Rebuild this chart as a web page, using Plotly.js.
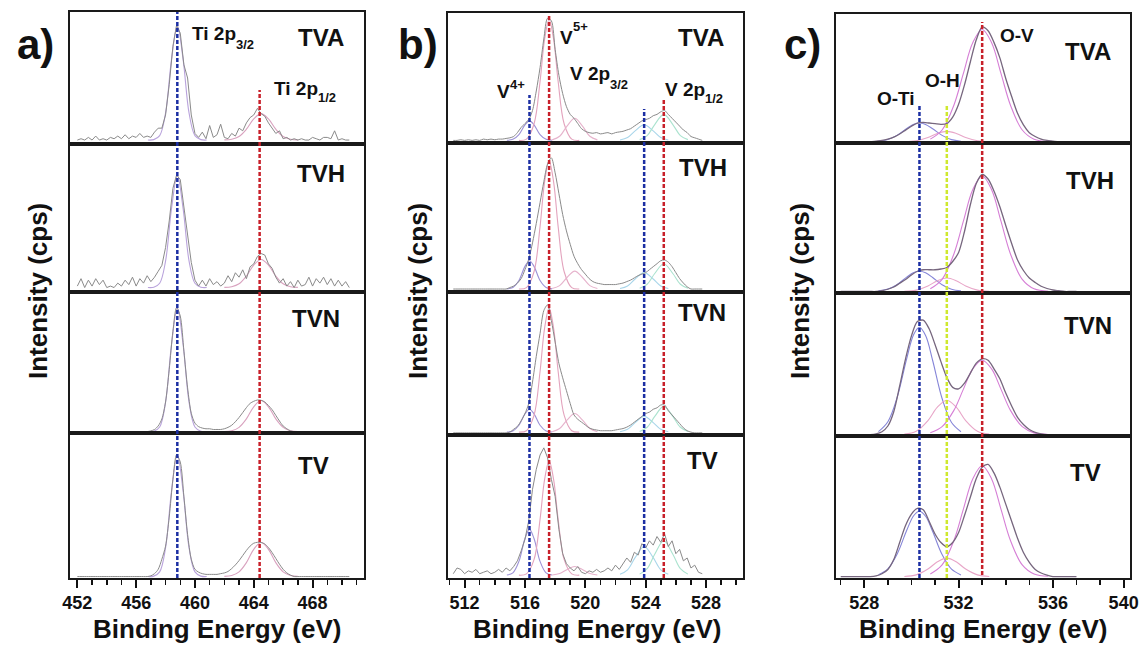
<!DOCTYPE html>
<html><head><meta charset="utf-8">
<script src="https://cdn.plot.ly/plotly-3.0.1.min.js"></script>
<style>html,body{margin:0;padding:0;background:#fff}#chart{width:1143px;height:650px}</style>
</head><body><div id="chart"></div>
<script>
// ================= DATA =================
const sampleNames = ["TVA", "TVH", "TVN", "TV"];

// ---- Panel a : Ti 2p (energy grid 452.00 eV + 0.25 eV steps) ----
const aStart = 452.0, aStep = 0.25;
const aRawTVA = [0.03,0.04,0.03,0.05,0.03,0.06,0.03,0.04,0.03,0.05,0.04,0.06,0.04,0.07,0.04,0.06,0.05,0.08,0.05,0.06,
  0.05,0.09,0.12,0.12,0.22,0.45,0.74,0.90,0.84,0.60,0.50,0.22,0.08,0.05,0.09,0.04,0.14,0.05,0.07,0.15,
  0.05,0.04,0.08,0.06,0.12,0.10,0.16,0.20,0.22,0.27,0.23,0.21,0.16,0.12,0.08,0.10,0.04,0.05,0.03,0.04,
  0.03,0.04,0.03,0.03,0.05,0.04,0.03,0.05,0.05,0.04,0.10,0.03,0.04,0.03,0.03];
const aRawTVH = [0.04,0.09,0.03,0.08,0.04,0.09,0.05,0.08,0.03,0.04,0.03,0.06,0.04,0.08,0.05,0.10,0.04,0.09,0.06,0.11,
  0.07,0.10,0.14,0.18,0.30,0.48,0.70,0.79,0.76,0.58,0.38,0.20,0.08,0.04,0.08,0.04,0.09,0.05,0.07,0.04,
  0.06,0.11,0.07,0.13,0.10,0.15,0.09,0.17,0.19,0.24,0.26,0.25,0.19,0.16,0.10,0.06,0.09,0.04,0.07,0.03,
  0.08,0.04,0.05,0.10,0.04,0.09,0.06,0.10,0.05,0.09,0.04,0.08,0.04,0.07,0.03];
const aRawTVN = [0.01,0.01,0.01,0.01,0.01,0.01,0.01,0.01,0.01,0.01,0.01,0.01,0.01,0.01,0.01,0.01,0.01,0.01,0.01,0.01,
  0.015,0.025,0.05,0.10,0.22,0.45,0.72,0.89,0.83,0.58,0.32,0.14,0.07,0.045,0.035,0.03,0.03,0.025,0.025,0.025,
  0.03,0.04,0.055,0.08,0.11,0.145,0.18,0.21,0.225,0.234,0.232,0.22,0.195,0.165,0.125,0.085,0.05,0.03,0.015,
  0.01,0.01,0.01,0.01,0.01,0.01,0.01,0.01,0.01,0.01,0.01,0.01,0.01,0.01,0.01,0.01];
const aRawTV = [0.01,0.01,0.01,0.01,0.01,0.01,0.01,0.01,0.01,0.01,0.01,0.01,0.01,0.01,0.01,0.01,0.01,0.01,0.01,0.01,
  0.015,0.03,0.06,0.13,0.22,0.42,0.68,0.85,0.80,0.56,0.30,0.13,0.06,0.04,0.03,0.025,0.025,0.025,0.025,0.03,
  0.035,0.045,0.065,0.09,0.12,0.155,0.19,0.22,0.24,0.246,0.245,0.235,0.21,0.175,0.135,0.095,0.06,0.035,0.02,
  0.01,0.01,0.01,0.01,0.01,0.01,0.01,0.01,0.01,0.01,0.01,0.01,0.01,0.01,0.01,0.01];
// fitted components (Ti 2p3/2, Ti 2p1/2)
const aFit1X = [456.8,457.2,457.6,458.0,458.4,458.8,459.2,459.6,460.0,460.4,460.8];
const aFit1TVA = [0.03,0.033,0.063,0.234,0.636,0.90,0.636,0.234,0.063,0.033,0.03];
const aFit1TVH = [0.03,0.032,0.059,0.209,0.559,0.79,0.559,0.209,0.059,0.032,0.03];
const aFit1TVN = [0.01,0.013,0.043,0.217,0.622,0.89,0.622,0.217,0.043,0.013,0.01];
const aFit1TV  = [0.01,0.013,0.042,0.207,0.595,0.85,0.595,0.207,0.042,0.013,0.01];
const aFit2X = [462.0,462.5,463.0,463.5,464.0,464.5,465.0,465.5,466.0,466.5,467.0];
const aFit2TVA = [0.031,0.036,0.057,0.112,0.19,0.23,0.19,0.112,0.057,0.036,0.031];
const aFit2TVH = [0.031,0.036,0.056,0.108,0.182,0.22,0.182,0.108,0.056,0.036,0.031];
const aFit2TVN = [0.011,0.016,0.04,0.10,0.186,0.23,0.186,0.10,0.04,0.016,0.011];
const aFit2TV  = [0.011,0.017,0.042,0.106,0.198,0.245,0.198,0.106,0.042,0.017,0.011];
const aPeakLines = [458.8, 464.4];
const aTickVals = [452, 456, 460, 464, 468];
const aTickText = ["452", "456", "460", "464", "468"];

// ---- Panel b : V 2p (energy grid 511.25 eV + 0.25 eV steps) ----
const bStart = 511.25, bStep = 0.25;
const bRawTVA = [0.02,0.02,0.025,0.02,0.025,0.02,0.025,0.02,0.03,0.025,0.03,0.025,0.03,0.03,0.035,
  0.04,0.05,0.08,0.12,0.15,0.18,0.25,0.40,0.58,0.80,0.96,0.94,0.72,0.52,0.38,0.28,0.22,0.19,0.15,0.11,
  0.09,0.08,0.075,0.08,0.07,0.075,0.08,0.07,0.08,0.085,0.09,0.10,0.11,0.13,0.15,0.17,0.18,0.19,0.21,0.22,
  0.24,0.25,0.22,0.19,0.16,0.13,0.10,0.08,0.05,0.04,0.03,0.02];
const bRawTVH = [0.02,0.02,0.02,0.02,0.02,0.02,0.02,0.02,0.02,0.02,0.02,0.02,0.02,0.02,0.02,
  0.03,0.04,0.06,0.09,0.15,0.22,0.33,0.46,0.60,0.74,0.86,0.90,0.80,0.66,0.52,0.41,0.32,0.24,0.19,0.15,
  0.12,0.09,0.07,0.06,0.055,0.05,0.05,0.05,0.05,0.055,0.06,0.07,0.08,0.095,0.11,0.12,0.13,0.15,0.17,0.19,
  0.21,0.215,0.20,0.17,0.13,0.09,0.06,0.035,0.02,0.02,0.02,0.02];
const bRawTVN = [0.015,0.015,0.015,0.015,0.015,0.015,0.015,0.015,0.015,0.015,0.015,0.015,0.015,0.015,0.015,
  0.02,0.04,0.06,0.10,0.15,0.22,0.37,0.55,0.71,0.87,0.91,0.80,0.65,0.50,0.40,0.31,0.22,0.14,0.11,0.09,
  0.07,0.05,0.04,0.035,0.03,0.03,0.03,0.03,0.035,0.04,0.045,0.055,0.07,0.09,0.11,0.13,0.15,0.16,0.18,0.19,
  0.21,0.21,0.17,0.14,0.11,0.08,0.05,0.03,0.02,0.015,0.015,0.015];
const bRawTV = [0.03,0.07,0.06,0.03,0.05,0.04,0.06,0.03,0.04,0.05,0.03,0.04,0.06,0.04,0.07,
  0.05,0.08,0.12,0.19,0.27,0.40,0.62,0.76,0.86,0.91,0.84,0.69,0.57,0.34,0.17,0.10,0.07,0.05,0.08,0.04,
  0.03,0.05,0.04,0.06,0.04,0.05,0.07,0.05,0.09,0.06,0.10,0.14,0.11,0.18,0.16,0.24,0.21,0.26,0.23,0.29,
  0.25,0.31,0.22,0.26,0.17,0.20,0.12,0.14,0.07,0.09,0.04,0.03];
// fitted components
const bV4X  = [514.8,515.2,515.6,516.0,516.3,516.6,517.0,517.4,517.8];
const bV4TVA = [0.021,0.028,0.065,0.14,0.17,0.14,0.065,0.028,0.021];
const bV4TVH = [0.021,0.03,0.077,0.172,0.21,0.172,0.077,0.03,0.021];
const bV4TVN = [0.021,0.028,0.068,0.148,0.18,0.148,0.068,0.028,0.021];
const bV4TV  = [0.021,0.036,0.116,0.276,0.34,0.276,0.116,0.036,0.021];
const bV5X  = [515.6,516.1,516.6,517.0,517.3,517.6,517.9,518.2,518.6,519.1,519.6];
const bV5TVA = [0.02,0.03,0.146,0.473,0.797,0.95,0.797,0.473,0.146,0.03,0.02];
const bV5TVH = [0.02,0.029,0.136,0.439,0.738,0.88,0.738,0.439,0.136,0.029,0.02];
const bV5TVN = [0.02,0.03,0.137,0.444,0.746,0.89,0.746,0.444,0.137,0.03,0.02];
const bV5TV  = [0.02,0.029,0.128,0.41,0.688,0.82,0.688,0.41,0.128,0.029,0.02];
const bSatX = [517.8,518.3,518.8,519.3,519.8,520.3,520.8];
const bSatTVA = [0.024,0.052,0.132,0.19,0.132,0.052,0.024];
const bSatTVH = [0.023,0.043,0.099,0.14,0.099,0.043,0.023];
const bSatTVN = [0.023,0.045,0.106,0.15,0.106,0.045,0.023];
const bSatTV  = [0.021,0.031,0.06,0.08,0.06,0.031,0.021];
const bV4bX = [522.3,522.8,523.3,523.9,524.5,525.0,525.5];
const bV4bTVA = [0.023,0.042,0.093,0.14,0.093,0.042,0.023];
const bV4bTVH = [0.023,0.04,0.087,0.13,0.087,0.04,0.023];
const bV4bTVN = [0.023,0.04,0.087,0.13,0.087,0.04,0.023];
const bV4bTV  = [0.026,0.057,0.142,0.22,0.142,0.057,0.026];
const bV5bX = [523.6,524.1,524.6,525.2,525.8,526.3,526.8];
const bV5bTVA = [0.026,0.057,0.142,0.22,0.142,0.057,0.026];
const bV5bTVH = [0.025,0.052,0.124,0.19,0.124,0.052,0.025];
const bV5bTVN = [0.025,0.054,0.13,0.20,0.13,0.054,0.025];
const bV5bTV  = [0.027,0.065,0.166,0.26,0.166,0.065,0.027];
const bPeakLines = [516.3, 517.6, 523.9, 525.2];
const bTickVals = [512, 516, 520, 524, 528];
const bTickText = ["512", "516", "520", "524", "528"];

// ---- Panel c : O 1s (energy grid 527.00 eV + 0.25 eV steps) ----
const cStart = 527.0, cStep = 0.25;
const cRawTVA = [0.01,0.01,0.01,0.01,0.01,0.01,0.015,0.02,0.03,0.045,0.07,0.10,0.13,0.155,0.16,0.155,0.15,0.145,0.15,0.20,
  0.30,0.45,0.63,0.80,0.90,0.87,0.78,0.66,0.50,0.36,0.23,0.14,0.08,0.05,0.03,0.02,0.015,0.01,0.01,0.01,0.01];
const cRawTVH = [0.01,0.01,0.01,0.01,0.01,0.01,0.01,0.015,0.025,0.04,0.065,0.09,0.12,0.145,0.155,0.155,0.155,0.16,0.17,0.21,
  0.27,0.41,0.59,0.73,0.79,0.76,0.68,0.575,0.45,0.33,0.22,0.15,0.10,0.07,0.045,0.03,0.02,0.015,0.01,0.01,0.01];
const cRawTVN = [0.01,0.01,0.01,0.01,0.01,0.01,0.015,0.03,0.07,0.17,0.35,0.54,0.70,0.80,0.81,0.75,0.64,0.52,0.41,0.34,
  0.33,0.37,0.44,0.51,0.54,0.53,0.47,0.40,0.30,0.21,0.13,0.08,0.045,0.025,0.015,0.01,0.01,0.01,0.01,0.01,0.01];
const cRawTV = [0.01,0.01,0.01,0.01,0.01,0.01,0.015,0.03,0.06,0.13,0.25,0.37,0.45,0.49,0.48,0.40,0.31,0.25,0.22,0.25,
  0.32,0.44,0.57,0.70,0.78,0.80,0.74,0.64,0.52,0.40,0.28,0.18,0.11,0.06,0.035,0.02,0.01,0.01,0.01,0.01,0.01];
const cTiX = [528.6,529.0,529.4,529.8,530.1,530.34,530.6,530.9,531.3,531.7,532.1];
const cTiTVA = [0.014,0.027,0.061,0.113,0.145,0.155,0.144,0.11,0.059,0.026,0.014];
const cTiTVH = [0.014,0.026,0.057,0.106,0.136,0.145,0.135,0.103,0.055,0.025,0.014];
const cTiTVN = [0.031,0.10,0.273,0.541,0.711,0.76,0.702,0.528,0.262,0.094,0.03];
const cTiTV  = [0.023,0.065,0.171,0.336,0.44,0.47,0.435,0.327,0.165,0.062,0.022];
const cOHX = [529.7,530.2,530.7,531.1,531.5,531.9,532.3,532.8,533.3];
const cOHTVA = [0.011,0.018,0.043,0.074,0.09,0.074,0.043,0.018,0.011];
const cOHTVH = [0.011,0.019,0.047,0.082,0.10,0.082,0.047,0.019,0.011];
const cOHTVN = [0.013,0.033,0.108,0.202,0.25,0.202,0.108,0.033,0.013];
const cOHTV  = [0.011,0.022,0.063,0.114,0.14,0.114,0.063,0.022,0.011];
const cOVX = [530.8,531.3,531.8,532.2,532.6,533.0,533.4,533.8,534.2,534.7,535.2,535.8];
const cOVTVA = [0.03,0.101,0.293,0.538,0.777,0.88,0.777,0.538,0.293,0.101,0.03,0.012];
const cOVTVH = [0.028,0.091,0.26,0.477,0.689,0.78,0.689,0.477,0.26,0.091,0.028,0.012];
const cOVTVN = [0.022,0.065,0.179,0.326,0.469,0.53,0.469,0.326,0.179,0.065,0.022,0.011];
const cOVTV  = [0.028,0.092,0.264,0.483,0.698,0.79,0.698,0.483,0.264,0.092,0.028,0.012];
const cPeakLines = [530.34, 531.5, 533.0];
const cTickVals = [528, 532, 536, 539];
const cTickText = ["528", "532", "536", "540"];

// ================= STYLE / LAYOUT =================
const W = 1143, H = 650;
const FONT = "Liberation Sans, Arial, Helvetica, sans-serif";
const px2x = p => p / W;
const px2y = p => 1 - p / H;
const gridX = (s, st, n) => Array.from({length: n}, (_, i) => +(s + i * st).toFixed(3));

const panels = [
  { range: [451.5, 471.5], px: [70, 364], rows: [12, 144, 292, 433, 578], tickvals: aTickVals, ticktext: aTickText, minor0: 452,
    start: aStart, step: aStep, raw: [aRawTVA, aRawTVH, aRawTVN, aRawTV], rawShape: ['linear', 'linear', 'spline', 'spline'],
    comps: [
      { x: aFit1X, ys: [aFit1TVA, aFit1TVH, aFit1TVN, aFit1TV], color: '#b9a3dc' },
      { x: aFit2X, ys: [aFit2TVA, aFit2TVH, aFit2TVN, aFit2TV], color: '#d9a2bf' }
    ] },
  { range: [510.9, 530.45], px: [448, 743], rows: [13, 143, 292, 435, 578], tickvals: bTickVals, ticktext: bTickText, minor0: 512,
    start: bStart, step: bStep, raw: [bRawTVA, bRawTVH, bRawTVN, bRawTV], rawShape: ['spline', 'spline', 'spline', 'linear'],
    comps: [
      { x: bV4X, ys: [bV4TVA, bV4TVH, bV4TVN, bV4TV], color: '#9d92d6' },
      { x: bV5X, ys: [bV5TVA, bV5TVH, bV5TVN, bV5TV], color: '#e3a3bd' },
      { x: bSatX, ys: [bSatTVA, bSatTVH, bSatTVN, bSatTV], color: '#e6b3cc' },
      { x: bV4bX, ys: [bV4bTVA, bV4bTVH, bV4bTVN, bV4bTV], color: '#a9d6ea' },
      { x: bV5bX, ys: [bV5bTVA, bV5bTVH, bV5bTVN, bV5bTV], color: '#abe3cf' }
    ] },
  { range: [526.8, 539.27], px: [836, 1130], rows: [14, 143, 293, 436, 578], tickvals: cTickVals, ticktext: cTickText, minor0: 528,
    start: cStart, step: cStep, raw: [cRawTVA, cRawTVH, cRawTVN, cRawTV], rawShape: ['spline', 'spline', 'spline', 'spline'],
    comps: [
      { x: cTiX, ys: [cTiTVA, cTiTVH, cTiTVN, cTiTV], color: '#8585d8' },
      { x: cOHX, ys: [cOHTVA, cOHTVH, cOHTVN, cOHTV], color: '#e8a6c8' },
      { x: cOVX, ys: [cOVTVA, cOVTVH, cOVTVN, cOVTV], color: '#d67fd6' }
    ] }
];

const layout = {
  width: W, height: H, margin: {l: 0, r: 0, t: 0, b: 0},
  paper_bgcolor: '#fff', plot_bgcolor: '#fff', showlegend: false,
  annotations: [], shapes: []
};
const traces = [];

panels.forEach((P, c) => {
  for (let r = 0; r < 4; r++) {
    const n = c * 4 + r + 1;
    const xs = n === 1 ? '' : String(n);
    const bottom = r === 3;
    layout['xaxis' + xs] = {
      domain: [px2x(P.px[0]), px2x(P.px[1])], range: P.range, anchor: 'y' + xs,
      showline: true, mirror: true, linecolor: '#1a1a1a', linewidth: 1.6,
      showgrid: false, zeroline: false, fixedrange: true,
      tickmode: 'array', tickvals: P.tickvals, ticktext: P.ticktext,
      ticks: bottom ? 'outside' : '', ticklen: 8, tickwidth: 2, tickcolor: '#111',
      showticklabels: bottom,
      tickfont: {family: FONT, size: 18, color: '#111', weight: 'bold'},
      minor: bottom ? {ticks: 'outside', tickmode: 'linear', tick0: P.minor0, dtick: 1, ticklen: 5, tickwidth: 1.5, tickcolor: '#111', showgrid: false} : {ticks: ''}
    };
    layout['yaxis' + xs] = {
      domain: [px2y(P.rows[r + 1]), px2y(P.rows[r])], range: [0, 1], anchor: 'x' + xs,
      showline: true, mirror: true, linecolor: '#1a1a1a', linewidth: 1.6,
      showgrid: false, zeroline: false, ticks: '', showticklabels: false, fixedrange: true
    };
    P.comps.forEach(cm => {
      traces.push({x: cm.x, y: cm.ys[r], xaxis: 'x' + xs, yaxis: 'y' + xs, mode: 'lines',
        line: {color: cm.color, width: 1.1, shape: 'spline', smoothing: 1}, hoverinfo: 'skip'});
    });
    const raw = P.raw[r];
    traces.push({x: gridX(P.start, P.step, raw.length), y: raw, xaxis: 'x' + xs, yaxis: 'y' + xs, mode: 'lines',
      line: {color: c === 2 ? '#76667e' : '#8a8a8a', width: c === 2 ? 1.3 : 1, shape: P.rawShape[r], smoothing: 0.8}, hoverinfo: 'skip'});
  }
});

// dashed reference lines (x in data units, vertical span in paper units)
const dashDefs = [
  {xref: 'x',  xs: aPeakLines, colors: ['#1c2fa3', '#c8202a'], tops: [12, 90], bots: [578, 578]},
  {xref: 'x5', xs: bPeakLines, colors: ['#1c2fa3', '#c8202a', '#1c2fa3', '#c8202a'], tops: [95, 15, 109, 99], bots: [578, 578, 578, 578]},
  {xref: 'x9', xs: cPeakLines, colors: ['#1c2fa3', '#cfe82e', '#c8202a'], tops: [104, 106, 22], bots: [578, 578, 575]}
];
dashDefs.forEach(d => d.xs.forEach((xv, i) => {
  layout.shapes.push({type: 'line', xref: d.xref, yref: 'paper', x0: xv, x1: xv,
    y0: px2y(d.bots[i]), y1: px2y(d.tops[i]), line: {color: d.colors[i], width: 2.5, dash: '4px,2px'}, layer: 'above'});
}));

function ann(text, x, y, size, extra) {
  layout.annotations.push(Object.assign({
    text: text, xref: 'paper', yref: 'paper', x: px2x(x), y: px2y(y),
    xanchor: 'center', yanchor: 'middle', showarrow: false,
    font: {family: FONT, size: size, color: '#111', weight: 'bold'}
  }, extra || {}));
}
// panel letters
ann('a)', 35, 45, 42); ann('b)', 418, 45, 42); ann('c)', 802, 45, 42);
// y titles
[38, 418, 800].forEach(x => ann('Intensity (cps)', x, 291, 26, {textangle: -90}));
// x titles
[217, 597, 983].forEach(x => ann('Binding Energy (eV)', x, 629, 26));
// sample labels
const sampleLabelPos = [
  [[321, 37], [321, 173], [316, 318], [313, 465]],
  [[701, 37], [703, 167], [702, 313], [702, 460]],
  [[1088, 52], [1090, 180], [1088, 325], [1085, 473]]
];
sampleLabelPos.forEach(col => col.forEach((p, r) => ann(sampleNames[r], p[0], p[1], 24)));
// peak labels: main text + separate smaller sub/superscript text
const L = {xanchor: 'left'};
const peakLabels = [
  ['Ti 2p', 190, 33, '3/2', 234, 45],
  ['Ti 2p', 272, 88, '1/2', 316, 97],
  ['V', 495, 91, '4+', 508, 84],
  ['V', 558, 37, '5+', 571, 27],
  ['V 2p', 568, 74, '3/2', 608, 85],
  ['V 2p', 663, 89, '1/2', 703, 99]
];
peakLabels.forEach(p => { ann(p[0], p[1], p[2], 19, L); ann(p[3], p[4], p[5], 13, L); });
ann('O-Ti', 875, 99, 19, L);
ann('O-H', 923, 81, 19, L);
ann('O-V', 998, 35, 19, L);

Plotly.newPlot('chart', traces, layout, {displayModeBar: false, staticPlot: true});
</script>
</body></html>
